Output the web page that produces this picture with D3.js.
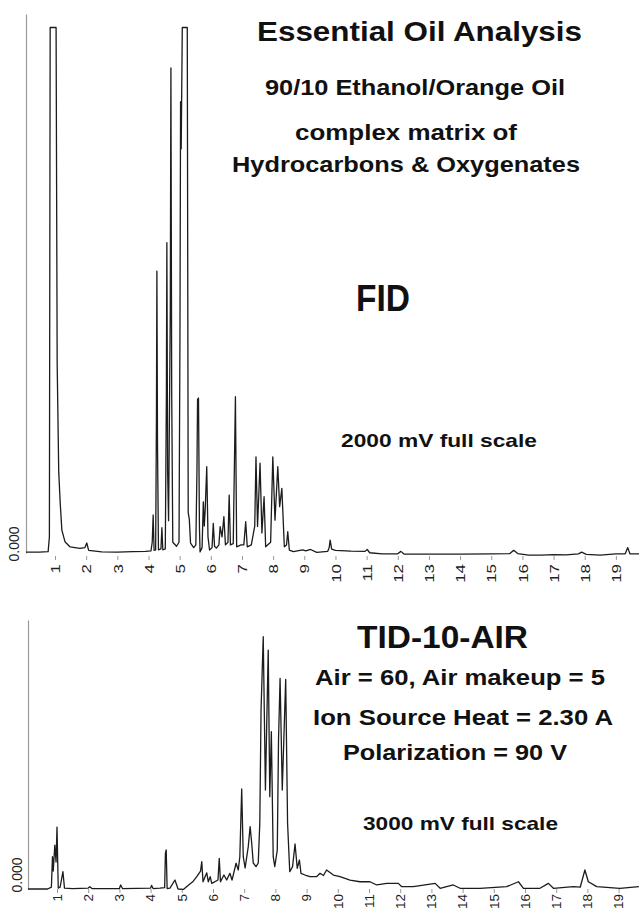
<!DOCTYPE html>
<html><head><meta charset="utf-8">
<script src="https://cdn.jsdelivr.net/npm/d3@7"></script>
<style>
body{margin:0;background:#fff}
svg{display:block}
text{font-family:"Liberation Sans",Arial,Helvetica,sans-serif}
</style>
</head><body>
<svg id="c" width="639" height="913"></svg>
<script>
// ---------- DATA (retention time in minutes, detector signal in mV) ----------
const fidTime = [0.07,0.5,0.78,0.82,0.845,1.035,1.07,1.12,1.17,1.22,1.32,1.48,1.8,1.96,2.02,2.08,2.5,3.0,3.5,3.9,
  4.08,4.12,4.15,4.18,4.23,4.255,4.27,4.29,4.32,4.40,4.43,4.46,4.54,4.575,4.59,4.615,4.645,4.70,4.72,4.745,4.78,4.9,4.98,
  5.01,5.03,5.05,5.085,5.245,5.275,5.31,5.35,5.45,5.52,5.555,5.575,5.605,5.635,5.655,5.72,5.76,5.79,5.82,5.87,5.91,5.96,
  6.04,6.08,6.12,6.18,6.26,6.3,6.36,6.42,6.47,6.55,6.59,6.63,6.72,6.79,6.83,6.97,7.06,7.12,7.17,7.3,7.41,7.45,7.5,7.58,
  7.64,7.71,7.76,7.92,7.99,8.06,8.15,8.21,8.28,8.36,8.43,8.47,8.52,8.65,8.95,9.05,9.2,9.4,9.75,9.8,9.83,9.88,10.0,10.5,
  10.95,11.02,11.1,11.5,12.0,12.1,12.2,13.0,14.0,15.0,15.6,15.72,15.85,16.2,16.6,17.0,17.4,17.8,17.9,18.05,18.5,19.0,
  19.3,19.38,19.45,19.75];
const fidSignal = [3,3,5,60,1950,1950,700,300,180,85,42,23,17,20,37,10,4,3,5,6,
  8,40,141,10,12,500,1046,400,12,15,94,12,15,600,1152,300,120,900,1800,600,40,25,40,
  800,1675,1500,1950,1950,150,126,37,20,30,300,570,575,100,4,20,190,100,160,320,60,11,
  20,110,25,18,30,98,60,135,30,40,215,30,35,580,23,30,30,116,23,30,100,357,98,333,
  74,209,23,40,357,122,320,172,240,23,30,79,11,5,12,8,13,2,6,20,48,14,10,7,
  6,13,1,-3,-3,6,-4,-4,-4,-3,-2,10,-2,-8,-8,-6,-7,-3,3,-5,-8,-3,
  -3,20,-3,-3];

const tidTime = [0.07,0.7,0.82,0.855,0.88,0.93,0.97,1.0,1.04,1.1,1.19,1.24,1.5,2.0,2.05,2.12,3.0,3.04,3.1,4.0,4.03,4.08,
  4.3,4.45,4.475,4.5,4.53,4.62,4.78,4.88,5.05,5.2,5.35,5.48,5.6,5.64,5.68,5.8,5.85,5.91,5.96,6.16,6.2,6.24,6.35,6.44,
  6.54,6.61,6.74,6.81,6.86,6.92,6.97,7.03,7.13,7.19,7.24,7.29,7.38,7.45,7.50,7.54,7.61,7.68,7.77,7.82,7.87,7.93,7.98,
  8.06,8.10,8.15,8.22,8.33,8.39,8.46,8.55,8.63,8.70,8.77,8.82,8.95,9.11,9.32,9.43,9.54,9.64,9.86,10.07,10.39,10.71,
  11.03,11.25,11.57,11.94,12.05,12.42,13.12,13.28,13.7,13.92,14.56,15.41,15.79,15.95,16.48,16.75,16.91,17.55,17.77,
  17.92,18.03,18.3,19.04,19.65];
const tidSignal = [0,0,20,360,200,490,300,690,10,20,193,10,5,10,25,5,5,45,5,10,40,5,
  10,15,400,435,5,10,100,0,-5,40,80,137,200,305,80,180,80,137,63,100,342,80,156,100,
  175,100,287,212,360,1115,360,234,472,695,513,290,249,290,736,1996,2813,1104,2665,1030,1754,360,249,
  435,1661,2349,1104,2338,736,193,249,502,231,323,175,156,137,137,175,150,212,156,137,100,81,
  81,45,63,63,26,26,63,8,45,8,8,26,81,8,8,63,8,26,20,
  212,81,26,8,26];

const tickValues = [1,2,3,4,5,6,7,8,9,10,11,12,13,14,15,16,17,18,19];
const tickLabels = ["1","2","3","4","5","6","7","8","9","10","11","12","13","14","15","16","17","18","19"];
const yZeroLabel = ["0.000"];

const topTexts = ["Essential Oil Analysis","90/10 Ethanol/Orange Oil","complex matrix of","Hydrocarbons & Oxygenates","FID","2000 mV full scale"];
const botTexts = ["TID-10-AIR","Air = 60, Air makeup = 5","Ion Source Heat = 2.30 A","Polarization = 90 V","3000 mV full scale"];

// ---------- DRAW ----------
const svg = d3.select("#c");
const fidData = fidTime.map((t,i)=>[t,fidSignal[i]]);
const tidData = tidTime.map((t,i)=>[t,tidSignal[i]]);

function panel(cfg){
  const x = d3.scaleLinear().domain([0,19.8]).range([cfg.x0, cfg.x0 + 19.8*cfg.pxPerMin]);
  const y = d3.scaleLinear().domain([0,cfg.full]).range([cfg.base, cfg.top]);
  // y axis
  const ya = svg.append("g").attr("transform",`translate(${cfg.axisX},0)`)
    .call(d3.axisLeft(y).tickValues([0]).tickFormat((d,i)=>yZeroLabel[i]).tickSize(0).tickSizeOuter(0));
  ya.select(".domain").attr("stroke","#9a9a9a").attr("stroke-width",1.2);
  ya.selectAll("text").attr("transform","rotate(-90)").attr("text-anchor","start")
    .attr("x",-cfg.zeroBelow).attr("y",-cfg.zeroLeft).attr("dy","0.35em")
    .attr("font-size",14).attr("fill","#222");
  // x axis
  const xa = svg.append("g").attr("transform",`translate(0,${cfg.tickY})`)
    .call(d3.axisBottom(x).tickValues(tickValues).tickFormat((d,i)=>tickLabels[i]).tickSize(4).tickSizeOuter(0));
  xa.select(".domain").remove();
  xa.selectAll(".tick line").attr("stroke","#999");
  xa.selectAll("text").attr("transform",`rotate(-90) scale(${cfg.stretch},1)`).attr("text-anchor","end")
    .attr("x",-cfg.labelOff/cfg.stretch).attr("y",0).attr("dy","0.36em")
    .attr("font-size",cfg.tickFont).attr("fill","#222");
  // trace
  const line = d3.line().x(d=>x(d[0])).y(d=>y(d[1]));
  svg.append("path").datum(cfg.data).attr("d",line)
    .attr("fill","none").attr("stroke","#1c1c1c").attr("stroke-width",1.3).attr("stroke-linejoin","round");
}

panel({x0:23.84, pxPerMin:31.16, full:2000, base:553, top:14, axisX:26, tickY:556, labelOff:8,
  stretch:1.3, tickFont:13, zeroBelow:8, zeroLeft:12, data:fidData});
panel({x0:25.8, pxPerMin:31.2, full:3000, base:889, top:620, axisX:28, tickY:889, labelOff:5,
  stretch:1.12, tickFont:12, zeroBelow:3, zeroLeft:11, data:tidData});

function label(txt, cx, by, size, len){
  svg.append("text").text(txt).attr("x",cx).attr("y",by).attr("text-anchor","middle")
    .attr("font-size",size).attr("font-weight","bold").attr("fill","#111")
    .attr("textLength",len).attr("lengthAdjust","spacingAndGlyphs");
}
label(topTexts[0], 419.5, 41, 28, 325);
label(topTexts[1], 415, 95, 22, 300);
label(topTexts[2], 406, 140, 22, 222);
label(topTexts[3], 406, 172, 22, 348);
label(topTexts[4], 383, 311, 36, 54);
label(topTexts[5], 439, 447, 19, 196);
label(botTexts[0], 442.5, 648, 32, 171);
label(botTexts[1], 460, 685, 22, 290);
label(botTexts[2], 463, 725, 22, 300);
label(botTexts[3], 455, 760, 22, 224);
label(botTexts[4], 460.5, 830, 19, 195);
</script>
</body></html>
